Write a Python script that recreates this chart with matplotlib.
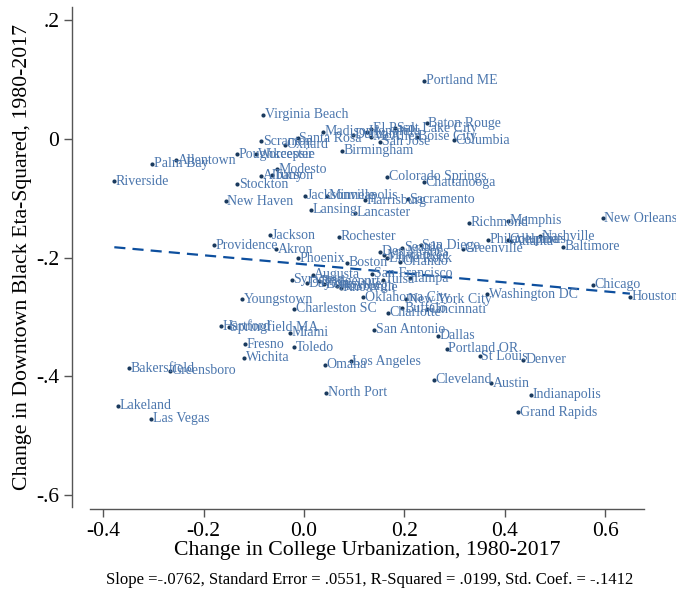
import matplotlib
matplotlib.use("Agg")
import matplotlib.pyplot as plt
import numpy as np

# change in college urbanization (x) vs change in downtown black eta-squared (y)
cities = [
    "Riverside", "Palm Bay", "Allentown", "Poughkeepsie", "Worcester", "Scranton",
    "Virginia Beach", "Stockton", "New Haven", "Albany", "Tucson", "Modesto",
    "Oxnard", "Santa Rosa", "Madison", "Durham", "Honolulu", "El Paso", "McAllen",
    "San Jose", "Salt Lake City", "Boise City", "Columbia", "Baton Rouge",
    "Portland ME", "Birmingham", "Colorado Springs", "Chattanooga", "Jacksonville",
    "Minneapolis", "Harrisburg", "Sacramento", "Lansing", "Lancaster", "Richmond",
    "Memphis", "New Orleans", "Nashville", "Philadelphia", "Columbus", "Atlanta",
    "Baltimore", "Greenville", "Chicago", "Houston", "Washington DC", "Providence",
    "Jackson", "Akron", "Phoenix", "Syracuse", "Youngstown", "Charleston SC",
    "Hartford", "Springfield MA", "Miami", "Fresno", "Toledo", "Wichita",
    "Rochester", "Boston", "Augusta", "Dayton", "Bridgeport", "Louisville",
    "Pittsburgh", "Knoxville", "San Francisco", "Tulsa", "Tampa", "Oklahoma City",
    "New York City", "Buffalo", "Cincinnati", "Charlotte", "San Antonio", "Dallas",
    "Portland OR", "Seattle", "San Diego", "Des Moines", "Milwaukee", "Little Rock",
    "Orlando", "Bakersfield", "Greensboro", "Lakeland", "Las Vegas", "Omaha",
    "North Port", "Los Angeles", "St Louis", "Denver", "Cleveland", "Austin",
    "Indianapolis", "Grand Rapids",
]
college_change = [
    -0.378, -0.302, -0.255, -0.133, -0.096, -0.085,
    -0.081, -0.133, -0.156, -0.085, -0.063, -0.054,
    -0.038, -0.013, 0.037, 0.097, 0.125, 0.133, 0.133,
    0.151, 0.181, 0.224, 0.299, 0.244,
    0.239, 0.075, 0.166, 0.238, 0.001,
    0.045, 0.121, 0.206, 0.013, 0.102, 0.329,
    0.406, 0.595, 0.470, 0.366, 0.406, 0.412,
    0.516, 0.316, 0.575, 0.649, 0.365, -0.180,
    -0.067, -0.055, -0.012, -0.025, -0.124, -0.020,
    -0.166, -0.150, -0.028, -0.117, -0.020, -0.120,
    0.070, 0.086, 0.017, 0.005, 0.030, 0.040,
    0.065, 0.073, 0.135, 0.158, 0.211, 0.118,
    0.203, 0.196, 0.244, 0.167, 0.140, 0.267,
    0.284, 0.196, 0.232, 0.151, 0.160, 0.165,
    0.192, -0.349, -0.267, -0.370, -0.304, 0.042,
    0.044, 0.093, 0.350, 0.437, 0.259, 0.372,
    0.452, 0.427,
]
eta_change = [
    -0.071, -0.042, -0.036, -0.026, -0.026, -0.004,
    0.041, -0.076, -0.105, -0.062, -0.061, -0.051,
    -0.010, 0.001, 0.012, 0.007, 0.012, 0.017, 0.004,
    -0.005, 0.018, 0.004, -0.002, 0.027,
    0.098, -0.020, -0.064, -0.073, -0.096,
    -0.096, -0.103, -0.102, -0.119, -0.124, -0.141,
    -0.138, -0.134, -0.164, -0.170, -0.170, -0.172,
    -0.182, -0.185, -0.246, -0.266, -0.262, -0.179,
    -0.162, -0.186, -0.201, -0.237, -0.270, -0.286,
    -0.316, -0.317, -0.327, -0.346, -0.351, -0.369,
    -0.165, -0.209, -0.229, -0.243, -0.240, -0.245,
    -0.248, -0.251, -0.227, -0.237, -0.235, -0.267,
    -0.270, -0.285, -0.287, -0.293, -0.322, -0.332,
    -0.354, -0.183, -0.179, -0.190, -0.196, -0.201,
    -0.207, -0.387, -0.391, -0.450, -0.472, -0.381,
    -0.428, -0.375, -0.366, -0.372, -0.406, -0.412,
    -0.431, -0.461,
]
slope = -0.0762
intercept = -0.2113
footnote = "Slope =-.0762, Standard Error = .0551, R-Squared = .0199, Std. Coef. = -.1412"

plt.rcParams['font.family'] = ['Liberation Serif', 'DejaVu Serif']

fig = plt.figure(figsize=(6.76, 5.95), dpi=100)
ax = fig.add_axes([0.1331, 0.1479, 0.8195, 0.8403])

x = np.array(college_change)
y = np.array(eta_change)

ax.scatter(x, y, s=9, color="#1a3a5e", zorder=3, linewidths=0)
for name, xi, yi in zip(cities, x, y):
    ax.annotate(name, (xi, yi), xytext=(1.2, 0), textcoords="offset points",
                ha="left", va="center", fontsize=10, color="#4b76ad")

xs = np.array([x.min(), x.max()])
ax.plot(xs, intercept + slope * xs, color="#0d4f9e", lw=1.6, ls=(0, (5, 3.2)), zorder=2)

ax.set_xlim(-0.4265, 0.677)
ax.set_ylim(-0.6206, 0.2226)
ax.set_xticks([-0.4, -0.2, 0.0, 0.2, 0.4, 0.6])
ax.set_xticklabels(["-0.4", "-0.2", "0.0", "0.2", "0.4", "0.6"])
ax.set_yticks([-0.6, -0.4, -0.2, 0.0, 0.2])
ax.set_yticklabels(["-.6", "-.4", "-.2", "0", ".2"], rotation=90, va="center")

for s in ["top", "right"]:
    ax.spines[s].set_visible(False)
ax.spines["left"].set_position(("outward", 13))
ax.spines["bottom"].set_position(("outward", 1.5))
for s in ["left", "bottom"]:
    ax.spines[s].set_color("#555555")
    ax.spines[s].set_linewidth(1.0)
ax.tick_params(direction="out", length=6, width=1.0, color="#555555",
               labelsize=15.5, pad=3)

ax.set_xlabel("Change in College Urbanization, 1980-2017", fontsize=15.7, labelpad=0)
ax.set_ylabel("Change in Downtown Black Eta-Squared, 1980-2017", fontsize=15.7, labelpad=3)
fig.text(0.547, 0.012, footnote, ha="center", va="bottom", fontsize=12)

fig.savefig("out.png", dpi=100)
